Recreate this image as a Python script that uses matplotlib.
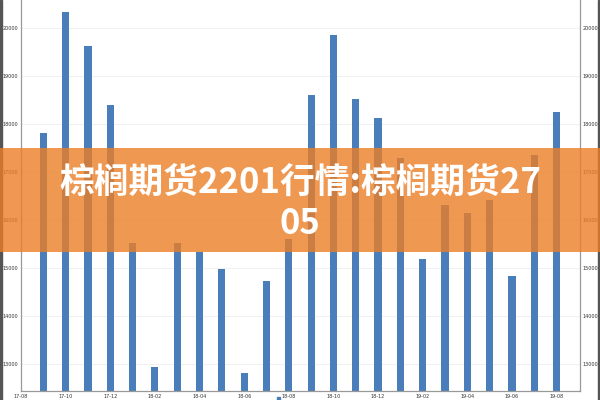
import matplotlib
matplotlib.use("Agg")
import matplotlib.pyplot as plt
from matplotlib.patches import Rectangle, Patch

# ---- data ----
months = ["17-09", "17-10", "17-11", "17-12", "18-01", "18-02", "18-03", "18-04",
          "18-05", "18-06", "18-07", "18-08", "18-09", "18-10", "18-11", "18-12",
          "19-01", "19-02", "19-03", "19-04", "19-05", "19-06", "19-07", "19-08"]
values = [17810, 20330, 19620, 18400, 15520, 12940, 15520, 15330,
          14980, 12810, 14730, 15600, 18600, 19850, 18520, 18120,
          17290, 15190, 16310, 16140, 16420, 14830, 17350, 18250]
xtick_labels = ["17-08", "17-10", "17-12", "18-02", "18-04", "18-06", "18-08",
                "18-10", "18-12", "19-02", "19-04", "19-06", "19-08"]
ytick_values = [13000, 14000, 15000, 16000, 17000, 18000, 19000, 20000]
title_text = "棕榈期货2201行情:棕榈期货27\n05"

W, H = 600, 400
fig = plt.figure(figsize=(6, 4), dpi=100)
fig.patch.set_facecolor("white")

# axes: left at x=21px, right at 581px, bottom at y=391px, top above the image
left_px, right_px, bottom_px, top_px = 21, 580, 391, -10
ax = fig.add_axes([left_px / W, (H - bottom_px) / H,
                   (right_px - left_px) / W, (bottom_px - top_px) / H])

xpos = list(range(1, len(months) + 1))
ax.bar(xpos, values, width=0.32, color="#4A7EBB", zorder=2)

ax.set_xlim(0, 25.05)
ax.set_ylim(12440, 20790)

ax.set_xticks(list(range(0, 2 * len(xtick_labels), 2)))
ax.set_xticklabels(xtick_labels)
ax.set_yticks(ytick_values)
ax.set_yticklabels([str(v) for v in ytick_values])
ax.tick_params(axis="both", labelsize=3.5, colors="#333333", length=0, pad=2)
ax.tick_params(axis="y", labelright=True, right=False)
ax.grid(axis="y", color="#eeeeee", linewidth=0.6, zorder=0)

for s in ["left", "bottom", "right"]:
    ax.spines[s].set_color("#999999")
    ax.spines[s].set_linewidth(0.9)
ax.spines["top"].set_visible(False)

# legend marker partly visible at the bottom
ax.legend(handles=[Patch(color="#4A7EBB")], labels=[""], loc="upper center",
          bbox_to_anchor=(0.465, -0.002), frameon=False, handlelength=0.5,
          handleheight=0.5, fontsize=4)

# outer dark frame lines
fig.add_artist(Rectangle((0.0, 0.0), 2 / W, 1, transform=fig.transFigure,
                         color="#555555", zorder=5))
fig.add_artist(Rectangle((1 - 2 / W, 0.0), 2 / W, 1, transform=fig.transFigure,
                         color="#555555", zorder=5))

# orange banner
fig.add_artist(Rectangle((0, (H - 252) / H), 1, 104 / H, transform=fig.transFigure,
                         color="#EC7E27", alpha=0.8, zorder=10, linewidth=0))
fig.text(0.5, (H - 203) / H, title_text, ha="center", va="center",
         fontsize=25, fontweight="heavy", color="white",
         family=["Noto Sans CJK SC", "DejaVu Sans"], linespacing=1.22, zorder=11)

fig.savefig("out.png", dpi=100)
